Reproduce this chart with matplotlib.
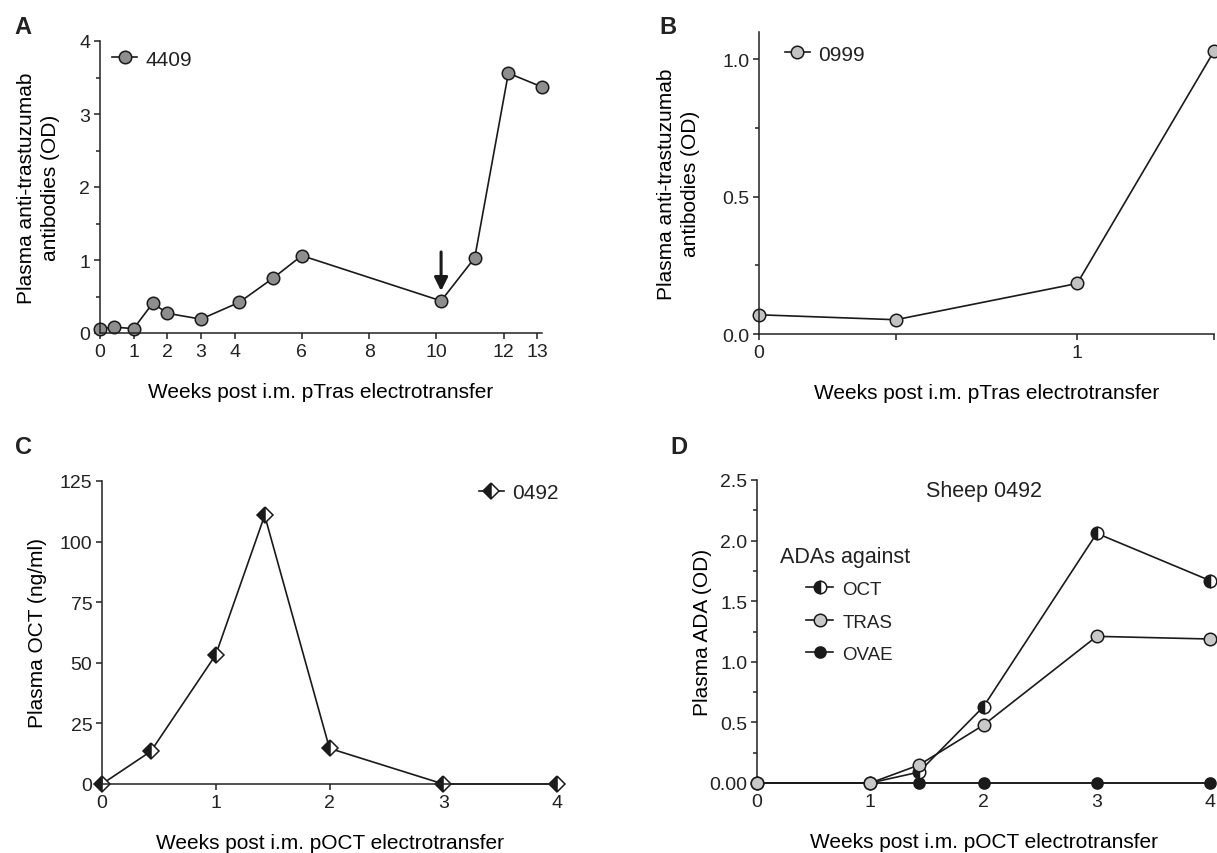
import matplotlib
matplotlib.use("Agg")
import matplotlib.pyplot as plt
from matplotlib.ticker import MultipleLocator, FormatStrFormatter

plt.rcParams['font.family'] = ['Liberation Sans', 'DejaVu Sans']
plt.rcParams['axes.linewidth'] = 1.1
plt.rcParams['xtick.major.width'] = 1.1
plt.rcParams['ytick.major.width'] = 1.1
plt.rcParams['ytick.minor.width'] = 1.1
plt.rcParams['xtick.major.size'] = 4
plt.rcParams['ytick.major.size'] = 4
plt.rcParams['ytick.minor.size'] = 3
plt.rcParams['xtick.labelsize'] = 14
plt.rcParams['ytick.labelsize'] = 14
plt.rcParams['text.color'] = '#222222'
plt.rcParams['xtick.color'] = '#222222'
plt.rcParams['ytick.color'] = '#222222'
plt.rcParams['axes.edgecolor'] = '#222222'

# Panel A - sheep 4409
weeks_a = [0, 0.43, 1, 1.57, 2, 3, 4.14, 5.14, 6, 10.14, 11.14, 12.14, 13.14]
od_4409 = [0.06, 0.08, 0.06, 0.41, 0.27, 0.19, 0.42, 0.75, 1.06, 0.44, 1.03, 3.56, 3.37]
ticks_a = [0, 1, 2, 3, 4, 6, 8, 10, 12, 13]

# Panel B - sheep 0999
weeks_b = [0, 0.43, 1, 1.43]
od_0999 = [0.07, 0.052, 0.184, 1.03]

# Panel C - plasma OCT, sheep 0492
weeks_c = [0, 0.43, 1, 1.43, 2, 3, 4]
oct_0492 = [0, 13.5, 53.3, 110.8, 14.7, 0, 0]

# Panel D - ADAs, sheep 0492
weeks_d = [0, 1, 1.43, 2, 3, 4]
ada_oct = [0, 0, 0.09, 0.63, 2.06, 1.67]
ada_tras = [0, 0, 0.148, 0.478, 1.21, 1.188]
ada_ovae = [0, 0, 0, 0, 0, 0]

W, H = 1217, 854
fig = plt.figure(figsize=(W / 100, H / 100), dpi=100)


def rect(l, r, t, b):
    return [l / W, 1 - b / H, (r - l) / W, (b - t) / H]


def style(ax, ylab, xlab, ylab_x):
    ax.spines['top'].set_visible(False)
    ax.spines['right'].set_visible(False)
    ax.tick_params(direction='out', pad=3)
    ax.set_ylabel(ylab, fontsize=15, linespacing=1.3)
    ax.yaxis.label.set_va('center')
    ax.yaxis.set_label_coords(ylab_x, 0.5)
    ax.set_xlabel(xlab, fontsize=15, labelpad=16)


mk = dict(markersize=9, markeredgewidth=1.1, markeredgecolor='#1a1a1a',
          color='#1a1a1a', linewidth=1.2, clip_on=False)
legkw = dict(frameon=False, fontsize=15, handlelength=1.2, handletextpad=0.4)

# ---- A ----
axA = fig.add_axes(rect(100, 542, 42, 334))
style(axA, 'Plasma anti-trastuzumab\nantibodies (OD)',
      'Weeks post i.m. pTras electrotransfer', -0.139)
axA.plot(weeks_a, od_4409, marker='o', markerfacecolor='#8e8e8e', label='4409', **mk)
axA.set_xlim(0, 13.14)
axA.set_ylim(0, 4)
axA.set_xticks(ticks_a)
axA.yaxis.set_major_locator(MultipleLocator(1))
axA.yaxis.set_minor_locator(MultipleLocator(0.5))
axA.annotate('', xy=(10.14, 0.575), xytext=(10.14, 1.11),
             arrowprops=dict(arrowstyle='-|>', color='#1a1a1a', lw=2.2,
                             mutation_scale=20, shrinkA=0, shrinkB=0))
axA.legend(loc='upper left', bbox_to_anchor=(-0.015, 1.035), **legkw)

# ---- B ----
axB = fig.add_axes(rect(759, 1214, 33, 335))
style(axB, 'Plasma anti-trastuzumab\nantibodies (OD)',
      'Weeks post i.m. pTras electrotransfer', -0.177)
axB.plot(weeks_b, od_0999, marker='o', markerfacecolor='#c2c2c2', label='0999', **mk)
axB.set_xlim(0, 1.43)
axB.set_ylim(0, 1.1)
axB.set_xticks(weeks_b)
axB.set_xticklabels(['0', '', '1', ''])
axB.yaxis.set_major_locator(MultipleLocator(0.5))
axB.yaxis.set_minor_locator(MultipleLocator(0.25))
axB.yaxis.set_major_formatter(FormatStrFormatter('%.1f'))
axB.legend(loc='upper left', bbox_to_anchor=(0.015, 1.02), **legkw)

# ---- C ----
axC = fig.add_axes(rect(102, 557, 482, 785))
style(axC, 'Plasma OCT (ng/ml)', 'Weeks post i.m. pOCT electrotransfer', -0.141)
axC.plot(weeks_c, oct_0492, marker='D', markersize=8, markerfacecolor='#1a1a1a',
         fillstyle='left', markerfacecoloralt='white', markeredgewidth=1.1,
         markeredgecolor='#1a1a1a', color='#1a1a1a', linewidth=1.2, clip_on=False,
         label='0492')
axC.set_xlim(0, 4)
axC.set_ylim(0, 125)
axC.set_xticks([0, 1, 2, 3, 4])
axC.yaxis.set_major_locator(MultipleLocator(25))
axC.legend(loc='upper right', bbox_to_anchor=(1.045, 1.055), **legkw)

# ---- D ----
axD = fig.add_axes(rect(757, 1210, 481, 784))
style(axD, 'Plasma ADA (OD)', 'Weeks post i.m. pOCT electrotransfer', -0.121)
axD.plot(weeks_d, ada_ovae, marker='o', markersize=8, markerfacecolor='#1a1a1a',
         markeredgewidth=1.1, markeredgecolor='#1a1a1a', color='#1a1a1a',
         linewidth=1.2, clip_on=False, label='OVAE', zorder=3)
axD.plot(weeks_d, ada_oct, marker='o', markerfacecolor='#1a1a1a', fillstyle='left',
         markerfacecoloralt='white', label='OCT', zorder=4, **mk)
axD.plot(weeks_d, ada_tras, marker='o', markerfacecolor='#c8c8c8', label='TRAS',
         zorder=5, **mk)
axD.set_xlim(0, 4)
axD.set_ylim(0, 2.5)
axD.set_xticks([0, 1, 2, 3, 4])
axD.set_yticks([0, 0.5, 1.0, 1.5, 2.0, 2.5])
axD.set_yticklabels(['0.00', '0.5', '1.0', '1.5', '2.0', '2.5'])
axD.yaxis.set_minor_locator(MultipleLocator(0.25))
axD.text(2.0, 2.41, 'Sheep 0492', fontsize=15.5, ha='center', va='center')
axD.text(0.051, 0.749, 'ADAs against', fontsize=15.5, ha='left', va='center',
         transform=axD.transAxes)
h, l = axD.get_legend_handles_labels()
order = [1, 2, 0]
axD.legend([h[i] for i in order], [l[i] for i in order], loc='upper left',
           bbox_to_anchor=(0.108, 0.667), frameon=False, fontsize=13.5,
           handlelength=1.45, handletextpad=0.5, labelspacing=0.82,
           borderaxespad=0, borderpad=0)

# panel letters
for s, x, y in [('A', 23, 28), ('B', 668, 28), ('C', 23, 448), ('D', 679, 448)]:
    fig.text(x / W, 1 - y / H, s, fontsize=17, fontweight='bold', ha='center', va='center')

fig.savefig('out.png', dpi=100)
